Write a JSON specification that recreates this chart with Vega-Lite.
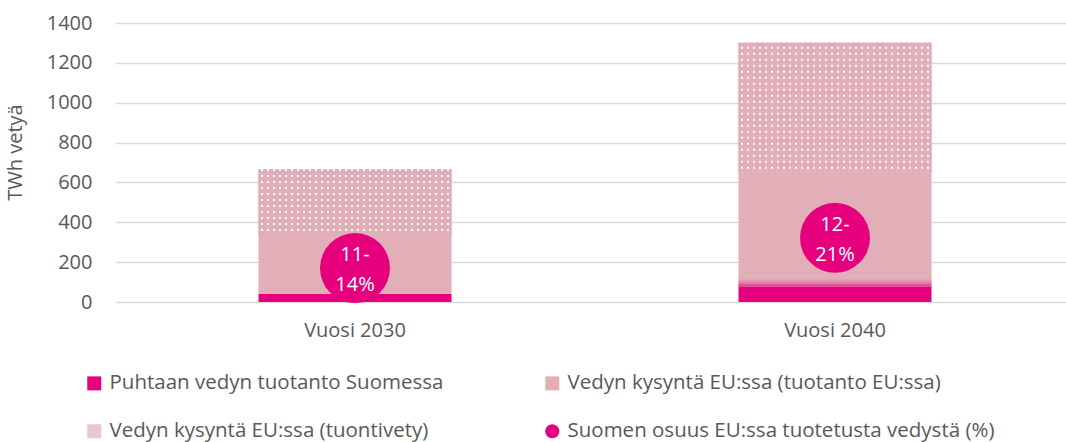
{
  "$schema": "https://vega.github.io/schema/vega-lite/v6.json",
  "width": 951,
  "height": 279,
  "autosize": {"type": "none"},
  "padding": {"left": 115, "top": 23, "right": 0, "bottom": 140},
  "background": "white",
  "datasets": {
    "bars": [
      {"year": "Vuosi 2030", "series": "Puhtaan vedyn tuotanto Suomessa", "value": 40, "order": 1},
      {"year": "Vuosi 2030", "series": "Vedyn kysyntä EU:ssa (tuotanto EU:ssa)", "value": 296, "order": 2},
      {"year": "Vuosi 2030", "series": "Vedyn kysyntä EU:ssa (tuontivety)", "value": 331, "order": 3},
      {"year": "Vuosi 2040", "series": "Puhtaan vedyn tuotanto Suomessa", "value": 77, "order": 1},
      {"year": "Vuosi 2040", "series": "Vedyn kysyntä EU:ssa (tuotanto EU:ssa)", "value": 572, "order": 2},
      {"year": "Vuosi 2040", "series": "Vedyn kysyntä EU:ssa (tuontivety)", "value": 652, "order": 3}
    ],
    "range": [
      {"year": "Vuosi 2040", "low": 77, "high": 117}
    ],
    "share": [
      {"year": "Vuosi 2030", "series": "Suomen osuus EU:ssa tuotetusta vedystä (%)", "level": 170, "label": "11-\n14%"},
      {"year": "Vuosi 2040", "series": "Suomen osuus EU:ssa tuotetusta vedystä (%)", "level": 322, "label": "12-\n21%"}
    ]
  },
  "config": {
    "view": {"stroke": null},
    "font": "Open Sans",
    "axis": {
      "labelColor": "#595959",
      "titleColor": "#595959",
      "labelFont": "Open Sans",
      "titleFont": "Open Sans",
      "labelFontSize": 20,
      "titleFontSize": 20,
      "titleFontWeight": "normal"
    },
    "axisY": {
      "grid": true,
      "gridColor": "#D9D9D9",
      "gridWidth": 1.3,
      "domain": false,
      "ticks": false,
      "labelPadding": 23,
      "values": [0, 200, 400, 600, 800, 1000, 1200, 1400],
      "format": "d",
      "labelOverlap": false,
      "titleX": -94,
      "titleY": 129,
      "titleAlign": "center",
      "titleBaseline": "alphabetic",
      "titleAngle": -90
    },
    "axisX": {
      "grid": false,
      "domain": false,
      "ticks": false,
      "labelPadding": 18,
      "labelAngle": 0
    }
  },
  "layer": [
    {
      "data": {"name": "bars"},
      "transform": [
        {"stack": "value", "groupby": ["year"], "sort": [{"field": "order", "order": "ascending"}], "as": ["v0", "v1"]}
      ],
      "layer": [
        {
          "mark": {"type": "bar", "width": 193},
          "encoding": {
            "x": {"field": "year", "type": "nominal", "sort": null, "title": null, "scale": {"range": [0, 960], "paddingInner": 0, "paddingOuter": 0}},
            "y": {"field": "v0", "type": "quantitative", "title": "TWh vetyä", "scale": {"domain": [0, 1400], "nice": false}},
            "y2": {"field": "v1"},
            "color": {
              "field": "series",
              "type": "nominal",
              "scale": {
                "domain": ["Puhtaan vedyn tuotanto Suomessa", "Vedyn kysyntä EU:ssa (tuontivety)", "Vedyn kysyntä EU:ssa (tuotanto EU:ssa)", "Suomen osuus EU:ssa tuotetusta vedystä (%)"],
                "range": ["#E6007E", "#EAC6CD", "#E2AEB8", "#E6007E"]
              },
              "legend": {
                "orient": "none",
                "legendX": -31,
                "legendY": 350,
                "columns": 2,
                "title": null,
                "padding": 0,
                "symbolType": "square",
                "symbolSize": 196,
                "symbolStrokeWidth": 0,
                "symbolOpacity": 1,
                "labelFont": "Open Sans",
                "labelFontSize": 20.5,
                "labelColor": "#595959",
                "labelOffset": 5,
                "labelLimit": 600,
                "columnPadding": 98,
                "rowPadding": 27,
                "encode": {
                  "symbols": {
                    "update": {
                      "shape": {"signal": "datum.value === 'Suomen osuus EU:ssa tuotetusta vedystä (%)' ? 'circle' : 'square'"}
                    }
                  }
                }
              }
            }
          }
        },
        {
          "transform": [{"filter": "datum.order == 3"}],
          "mark": {
            "type": "bar",
            "width": 193,
            "fill": {
              "gradient": "linear", "x1": 0, "y1": 0, "x2": 1, "y2": 0,
              "stops": [
                {"offset": 0, "color": "#E2AEB8"},
                {"offset": 0.0104, "color": "#E2AEB8"}, {"offset": 0.0104, "color": "#FFFFFF"}, {"offset": 0.0208, "color": "#FFFFFF"}, {"offset": 0.0208, "color": "#E2AEB8"},
                {"offset": 0.04165, "color": "#E2AEB8"}, {"offset": 0.04165, "color": "#FFFFFF"}, {"offset": 0.05205, "color": "#FFFFFF"}, {"offset": 0.05205, "color": "#E2AEB8"},
                {"offset": 0.0729, "color": "#E2AEB8"}, {"offset": 0.0729, "color": "#FFFFFF"}, {"offset": 0.0833, "color": "#FFFFFF"}, {"offset": 0.0833, "color": "#E2AEB8"},
                {"offset": 0.10415, "color": "#E2AEB8"}, {"offset": 0.10415, "color": "#FFFFFF"}, {"offset": 0.11455, "color": "#FFFFFF"}, {"offset": 0.11455, "color": "#E2AEB8"},
                {"offset": 0.1354, "color": "#E2AEB8"}, {"offset": 0.1354, "color": "#FFFFFF"}, {"offset": 0.1458, "color": "#FFFFFF"}, {"offset": 0.1458, "color": "#E2AEB8"},
                {"offset": 0.16665, "color": "#E2AEB8"}, {"offset": 0.16665, "color": "#FFFFFF"}, {"offset": 0.17705, "color": "#FFFFFF"}, {"offset": 0.17705, "color": "#E2AEB8"},
                {"offset": 0.1979, "color": "#E2AEB8"}, {"offset": 0.1979, "color": "#FFFFFF"}, {"offset": 0.2083, "color": "#FFFFFF"}, {"offset": 0.2083, "color": "#E2AEB8"},
                {"offset": 0.22915, "color": "#E2AEB8"}, {"offset": 0.22915, "color": "#FFFFFF"}, {"offset": 0.23955, "color": "#FFFFFF"}, {"offset": 0.23955, "color": "#E2AEB8"},
                {"offset": 0.2604, "color": "#E2AEB8"}, {"offset": 0.2604, "color": "#FFFFFF"}, {"offset": 0.2708, "color": "#FFFFFF"}, {"offset": 0.2708, "color": "#E2AEB8"},
                {"offset": 0.29165, "color": "#E2AEB8"}, {"offset": 0.29165, "color": "#FFFFFF"}, {"offset": 0.30205, "color": "#FFFFFF"}, {"offset": 0.30205, "color": "#E2AEB8"},
                {"offset": 0.3229, "color": "#E2AEB8"}, {"offset": 0.3229, "color": "#FFFFFF"}, {"offset": 0.3333, "color": "#FFFFFF"}, {"offset": 0.3333, "color": "#E2AEB8"},
                {"offset": 0.35415, "color": "#E2AEB8"}, {"offset": 0.35415, "color": "#FFFFFF"}, {"offset": 0.36455, "color": "#FFFFFF"}, {"offset": 0.36455, "color": "#E2AEB8"},
                {"offset": 0.3854, "color": "#E2AEB8"}, {"offset": 0.3854, "color": "#FFFFFF"}, {"offset": 0.3958, "color": "#FFFFFF"}, {"offset": 0.3958, "color": "#E2AEB8"},
                {"offset": 0.41665, "color": "#E2AEB8"}, {"offset": 0.41665, "color": "#FFFFFF"}, {"offset": 0.42705, "color": "#FFFFFF"}, {"offset": 0.42705, "color": "#E2AEB8"},
                {"offset": 0.4479, "color": "#E2AEB8"}, {"offset": 0.4479, "color": "#FFFFFF"}, {"offset": 0.4583, "color": "#FFFFFF"}, {"offset": 0.4583, "color": "#E2AEB8"},
                {"offset": 0.47915, "color": "#E2AEB8"}, {"offset": 0.47915, "color": "#FFFFFF"}, {"offset": 0.48955, "color": "#FFFFFF"}, {"offset": 0.48955, "color": "#E2AEB8"},
                {"offset": 0.5104, "color": "#E2AEB8"}, {"offset": 0.5104, "color": "#FFFFFF"}, {"offset": 0.5208, "color": "#FFFFFF"}, {"offset": 0.5208, "color": "#E2AEB8"},
                {"offset": 0.54165, "color": "#E2AEB8"}, {"offset": 0.54165, "color": "#FFFFFF"}, {"offset": 0.55205, "color": "#FFFFFF"}, {"offset": 0.55205, "color": "#E2AEB8"},
                {"offset": 0.5729, "color": "#E2AEB8"}, {"offset": 0.5729, "color": "#FFFFFF"}, {"offset": 0.5833, "color": "#FFFFFF"}, {"offset": 0.5833, "color": "#E2AEB8"},
                {"offset": 0.60415, "color": "#E2AEB8"}, {"offset": 0.60415, "color": "#FFFFFF"}, {"offset": 0.61455, "color": "#FFFFFF"}, {"offset": 0.61455, "color": "#E2AEB8"},
                {"offset": 0.6354, "color": "#E2AEB8"}, {"offset": 0.6354, "color": "#FFFFFF"}, {"offset": 0.6458, "color": "#FFFFFF"}, {"offset": 0.6458, "color": "#E2AEB8"},
                {"offset": 0.66665, "color": "#E2AEB8"}, {"offset": 0.66665, "color": "#FFFFFF"}, {"offset": 0.67705, "color": "#FFFFFF"}, {"offset": 0.67705, "color": "#E2AEB8"},
                {"offset": 0.6979, "color": "#E2AEB8"}, {"offset": 0.6979, "color": "#FFFFFF"}, {"offset": 0.7083, "color": "#FFFFFF"}, {"offset": 0.7083, "color": "#E2AEB8"},
                {"offset": 0.72915, "color": "#E2AEB8"}, {"offset": 0.72915, "color": "#FFFFFF"}, {"offset": 0.73955, "color": "#FFFFFF"}, {"offset": 0.73955, "color": "#E2AEB8"},
                {"offset": 0.7604, "color": "#E2AEB8"}, {"offset": 0.7604, "color": "#FFFFFF"}, {"offset": 0.7708, "color": "#FFFFFF"}, {"offset": 0.7708, "color": "#E2AEB8"},
                {"offset": 0.79165, "color": "#E2AEB8"}, {"offset": 0.79165, "color": "#FFFFFF"}, {"offset": 0.80205, "color": "#FFFFFF"}, {"offset": 0.80205, "color": "#E2AEB8"},
                {"offset": 0.8229, "color": "#E2AEB8"}, {"offset": 0.8229, "color": "#FFFFFF"}, {"offset": 0.8333, "color": "#FFFFFF"}, {"offset": 0.8333, "color": "#E2AEB8"},
                {"offset": 0.85415, "color": "#E2AEB8"}, {"offset": 0.85415, "color": "#FFFFFF"}, {"offset": 0.86455, "color": "#FFFFFF"}, {"offset": 0.86455, "color": "#E2AEB8"},
                {"offset": 0.8854, "color": "#E2AEB8"}, {"offset": 0.8854, "color": "#FFFFFF"}, {"offset": 0.8958, "color": "#FFFFFF"}, {"offset": 0.8958, "color": "#E2AEB8"},
                {"offset": 0.91665, "color": "#E2AEB8"}, {"offset": 0.91665, "color": "#FFFFFF"}, {"offset": 0.92705, "color": "#FFFFFF"}, {"offset": 0.92705, "color": "#E2AEB8"},
                {"offset": 0.9479, "color": "#E2AEB8"}, {"offset": 0.9479, "color": "#FFFFFF"}, {"offset": 0.9583, "color": "#FFFFFF"}, {"offset": 0.9583, "color": "#E2AEB8"},
                {"offset": 0.97915, "color": "#E2AEB8"}, {"offset": 0.97915, "color": "#FFFFFF"}, {"offset": 0.98955, "color": "#FFFFFF"}, {"offset": 0.98955, "color": "#E2AEB8"},
                {"offset": 1, "color": "#E2AEB8"}
              ]
            }
          },
          "encoding": {
            "x": {"field": "year", "type": "nominal", "sort": null, "title": null},
            "y": {"field": "v0", "type": "quantitative", "title": "TWh vetyä"},
            "y2": {"field": "v1"}
          }
        },
        {
          "transform": [{"filter": "datum.order == 3"}],
          "mark": {"type": "rule", "strokeWidth": 193, "stroke": "#E2AEB8", "strokeDash": [4, 2], "strokeCap": "butt"},
          "encoding": {
            "x": {"field": "year", "type": "nominal", "sort": null, "title": null},
            "y": {"field": "v0", "type": "quantitative", "title": "TWh vetyä"},
            "y2": {"field": "v1"}
          }
        }
      ]
    },
    {
      "data": {"name": "range"},
      "mark": {
        "type": "bar",
        "width": 193,
        "fill": {
          "gradient": "linear", "x1": 0, "y1": 0, "x2": 0, "y2": 1,
          "stops": [
            {"offset": 0, "color": "#E2AEB8"},
            {"offset": 0.5, "color": "#E384AC"},
            {"offset": 1, "color": "#E52D8D"}
          ]
        }
      },
      "encoding": {
        "x": {"field": "year", "type": "nominal", "sort": null, "title": null},
        "y": {"field": "low", "type": "quantitative", "title": "TWh vetyä"},
        "y2": {"field": "high"}
      }
    },
    {
      "data": {"name": "share"},
      "mark": {"type": "point", "filled": true, "size": 4900, "opacity": 1, "strokeWidth": 0},
      "encoding": {
        "x": {"field": "year", "type": "nominal", "sort": null, "title": null},
        "y": {"field": "level", "type": "quantitative", "title": "TWh vetyä"},
        "color": {"field": "series", "type": "nominal"}
      }
    },
    {
      "data": {"name": "share"},
      "mark": {"type": "text", "color": "#FFFFFF", "font": "Open Sans", "fontSize": 20, "lineBreak": "\n", "lineHeight": 30, "baseline": "middle", "align": "center", "dy": -13},
      "encoding": {
        "x": {"field": "year", "type": "nominal", "sort": null, "title": null},
        "y": {"field": "level", "type": "quantitative", "title": "TWh vetyä"},
        "text": {"field": "label"}
      }
    }
  ]
}
